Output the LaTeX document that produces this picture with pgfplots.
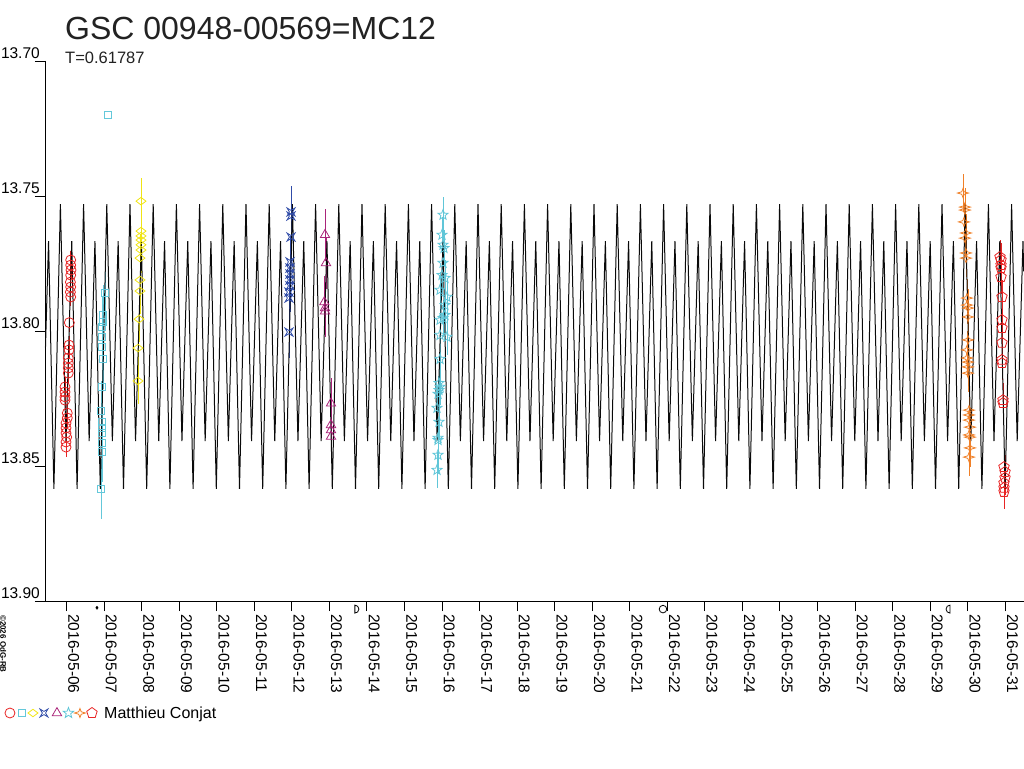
\documentclass[border=0pt]{standalone}
\usepackage{fontspec}
\setmainfont{Liberation Sans}
\usepackage{pgfplots}
\pgfplotsset{compat=1.18}
\usetikzlibrary{plotmarks}
\definecolor{cred}{RGB}{232,36,36}
\definecolor{csq}{RGB}{100,200,218}
\definecolor{cyel}{RGB}{240,228,20}
\definecolor{cblu}{RGB}{48,76,168}
\definecolor{cmag}{RGB}{170,36,122}
\definecolor{cstar}{RGB}{96,198,216}
\definecolor{cora}{RGB}{240,128,40}
\definecolor{ccurve}{RGB}{10,10,10}
\pgfdeclareplotmark{astroid}{%
 \pgfpathmoveto{\pgfqpoint{\pgfplotmarksize}{\pgfplotmarksize}}%
 \pgfpathlineto{\pgfqpoint{0pt}{0.4\pgfplotmarksize}}%
 \pgfpathlineto{\pgfqpoint{-\pgfplotmarksize}{\pgfplotmarksize}}%
 \pgfpathlineto{\pgfqpoint{-0.4\pgfplotmarksize}{0pt}}%
 \pgfpathlineto{\pgfqpoint{-\pgfplotmarksize}{-\pgfplotmarksize}}%
 \pgfpathlineto{\pgfqpoint{0pt}{-0.4\pgfplotmarksize}}%
 \pgfpathlineto{\pgfqpoint{\pgfplotmarksize}{-\pgfplotmarksize}}%
 \pgfpathlineto{\pgfqpoint{0.4\pgfplotmarksize}{0pt}}%
 \pgfpathclose\pgfusepathqstroke}
\pgfdeclareplotmark{fourstar}{%
 \pgfpathmoveto{\pgfqpoint{1.1\pgfplotmarksize}{0pt}}%
 \pgfpathlineto{\pgfqpoint{0.25\pgfplotmarksize}{0.25\pgfplotmarksize}}%
 \pgfpathlineto{\pgfqpoint{0pt}{0.9\pgfplotmarksize}}%
 \pgfpathlineto{\pgfqpoint{-0.25\pgfplotmarksize}{0.25\pgfplotmarksize}}%
 \pgfpathlineto{\pgfqpoint{-1.1\pgfplotmarksize}{0pt}}%
 \pgfpathlineto{\pgfqpoint{-0.25\pgfplotmarksize}{-0.25\pgfplotmarksize}}%
 \pgfpathlineto{\pgfqpoint{0pt}{-0.9\pgfplotmarksize}}%
 \pgfpathlineto{\pgfqpoint{0.25\pgfplotmarksize}{-0.25\pgfplotmarksize}}%
 \pgfpathclose\pgfusepathqstroke}
\pgfdeclareplotmark{starfive}{%
 \pgfpathmoveto{\pgfpointpolar{90}{\pgfplotmarksize}}%
 \pgfpathlineto{\pgfpointpolar{126}{0.42\pgfplotmarksize}}%
 \pgfpathlineto{\pgfpointpolar{162}{\pgfplotmarksize}}%
 \pgfpathlineto{\pgfpointpolar{198}{0.42\pgfplotmarksize}}%
 \pgfpathlineto{\pgfpointpolar{234}{\pgfplotmarksize}}%
 \pgfpathlineto{\pgfpointpolar{270}{0.42\pgfplotmarksize}}%
 \pgfpathlineto{\pgfpointpolar{306}{\pgfplotmarksize}}%
 \pgfpathlineto{\pgfpointpolar{342}{0.42\pgfplotmarksize}}%
 \pgfpathlineto{\pgfpointpolar{18}{\pgfplotmarksize}}%
 \pgfpathlineto{\pgfpointpolar{54}{0.42\pgfplotmarksize}}%
 \pgfpathclose\pgfusepathqstroke}
\pgfdeclareplotmark{dmoon}{%
 \pgfpathmoveto{\pgfqpoint{0pt}{\pgfplotmarksize}}%
 \pgfpatharc{90}{-90}{\pgfplotmarksize}%
 \pgfpathclose\pgfusepathqstroke}
\begin{document}
\begin{tikzpicture}
\begin{axis}[
  at={(45pt,167pt)}, anchor=south west,
  scale only axis, width=979pt, height=540pt,
  xmin=-0.5726, xmax=25.50, ymin=13.70, ymax=13.90, y dir=reverse,
  clip=false,
  axis x line*=bottom, axis y line*=left,
  axis line style={line width=0.9pt, black},
  tick align=outside, major tick length=10pt,
  tick style={line width=0.9pt, black},
  xtick={0,...,25},
  xticklabels={2016-05-06,2016-05-07,2016-05-08,2016-05-09,2016-05-10,2016-05-11,2016-05-12,2016-05-13,2016-05-14,2016-05-15,2016-05-16,2016-05-17,2016-05-18,2016-05-19,2016-05-20,2016-05-21,2016-05-22,2016-05-23,2016-05-24,2016-05-25,2016-05-26,2016-05-27,2016-05-28,2016-05-29,2016-05-30,2016-05-31},
  xticklabel style={rotate=-90, anchor=south west, inner xsep=0pt, inner ysep=1.5pt, font=\fontsize{15.5}{15.5}\selectfont},
  xticklabel shift=3pt,
  ytick={13.70,13.75,13.80,13.85,13.90},
  yticklabels={13.70,13.75,13.80,13.85,13.90},
  yticklabel style={anchor=south east, inner sep=0pt, xshift=5pt, yshift=2pt, font=\fontsize{15.5}{15.5}\selectfont},
  legend style={at={(axis description cs:-0.0409,-0.2074)}, anchor=west, draw=none, fill=none, inner sep=0pt, outer sep=0pt, font=\fontsize{16}{16}\selectfont, nodes={inner sep=0pt}, column sep=7pt},
]
\addlegendimage{legend image code/.code={
  \draw[cred, line width=0.8pt] plot[only marks, mark=o, mark size=5pt] coordinates {(0pt,0pt)};
  \draw[csq, line width=0.8pt] plot[only marks, mark=square, mark size=3.5pt] coordinates {(11.5pt,0pt)};
  \draw[cyel, line width=0.8pt] plot[only marks, mark=diamond, mark size=5pt, mark options={rotate=90}] coordinates {(23pt,0pt)};
  \draw[cblu, line width=0.8pt] plot[only marks, mark=astroid, mark size=4pt] coordinates {(34pt,0pt)};
  \draw[cmag, line width=0.8pt] plot[only marks, mark=triangle, mark size=5.4pt] coordinates {(47pt,0pt)};
  \draw[cstar, line width=0.8pt] plot[only marks, mark=starfive, mark size=5.5pt] coordinates {(58.5pt,0pt)};
  \draw[cora, line width=0.8pt] plot[only marks, mark=fourstar, mark size=5pt] coordinates {(70pt,0pt)};
  \draw[cred, line width=0.8pt] plot[only marks, mark=pentagon, mark size=5.5pt] coordinates {(82pt,0pt)};
}}
\addlegendentry{Matthieu Conjat}

% 2016-05-06 red circles
\addplot[cred, only marks, mark=o, mark size=5pt, line width=0.8pt, forget plot,
  error bars/.cd, y dir=both, y fixed=0.0035, error mark=none, error bar style={line width=0.9pt}] table {
x y
0.112 13.7737
0.112 13.7756
0.120 13.7774
0.112 13.7793
0.104 13.7819
0.112 13.7837
0.104 13.7856
0.112 13.7874
0.075 13.7969
0.067 13.8052
0.067 13.8070
0.048 13.8100
0.048 13.8119
0.048 13.8137
0.048 13.8156
-0.040 13.8207
-0.040 13.8226
-0.040 13.8244
-0.040 13.8256
0.021 13.8304
0.021 13.8322
-0.013 13.8341
-0.013 13.8359
-0.013 13.8378
0.005 13.8393
-0.013 13.8411
-0.013 13.8430
};
% 2016-05-07 cyan squares
\addplot[csq, only marks, mark=square, mark size=3.8pt, line width=0.8pt, forget plot] coordinates {(1.105,13.7200)};
\addplot[csq, only marks, mark=square, mark size=3.8pt, line width=0.8pt, forget plot,
  error bars/.cd, y dir=both, y fixed=0.011, error mark=none, error bar style={line width=0.9pt}] table {
x y
1.025 13.7859
0.972 13.7941
0.972 13.7967
0.945 13.7985
0.945 13.8022
0.945 13.8059
0.972 13.8104
0.945 13.8207
0.919 13.8296
0.945 13.8337
0.945 13.8359
0.945 13.8378
0.945 13.8415
0.945 13.8448
0.919 13.8585
};
% 2016-05-08 yellow diamonds
\addplot[cyel, only marks, mark=diamond, mark size=5pt, mark options={rotate=90}, line width=0.8pt, forget plot,
  error bars/.cd, y dir=both, y fixed=0.0085, error mark=none, error bar style={line width=0.9pt}] table {
x y
1.984 13.7519
1.984 13.7630
1.984 13.7648
1.984 13.7663
1.984 13.7681
1.984 13.7700
1.957 13.7730
1.957 13.7811
1.957 13.7852
1.931 13.7956
1.904 13.8063
1.904 13.8185
};
% 2016-05-12 dark blue
\addplot[cblu, only marks, mark=astroid, mark size=4pt, line width=0.8pt, forget plot,
  error bars/.cd, y dir=both, y fixed=0.0095, error mark=none, error bar style={line width=0.9pt}] table {
x y
5.979 13.7559
5.979 13.7574
5.979 13.7652
5.952 13.7744
5.952 13.7767
5.952 13.7789
5.952 13.7811
5.952 13.7833
5.925 13.7856
5.925 13.7878
5.925 13.8004
};
% 2016-05-13 magenta triangles
\addplot[cmag, only marks, mark=triangle, mark size=5.4pt, line width=0.8pt, forget plot,
  error bars/.cd, y dir=both, y fixed=0.0095, error mark=none, error bar style={line width=0.9pt}] table {
x y
6.884 13.7644
6.910 13.7748
6.866 13.7893
6.884 13.7915
6.884 13.7927
7.044 13.8268
7.044 13.8348
7.044 13.8367
7.044 13.8391
};
% 2016-05-16 cyan stars
\addplot[cstar, only marks, mark=starfive, mark size=5.3pt, line width=0.8pt, forget plot,
  error bars/.cd, y dir=both, y fixed=0.0068, error mark=none, error bar style={line width=0.9pt}] table {
x y
10.027 13.7570
10.000 13.7644
10.027 13.7681
10.053 13.7693
10.027 13.7748
10.000 13.7793
10.080 13.7804
9.947 13.7848
10.133 13.7874
10.080 13.7904
10.080 13.7941
9.947 13.7959
10.027 13.7952
9.947 13.8015
10.133 13.8022
9.947 13.8104
9.920 13.8193
9.947 13.8207
9.920 13.8219
9.894 13.8233
9.867 13.8285
9.920 13.8337
9.894 13.8396
9.894 13.8404
9.894 13.8459
9.867 13.8515
};
% 2016-05-30 orange four-point stars
\addplot[cora, only marks, mark=fourstar, mark size=5pt, line width=0.8pt, forget plot,
  error bars/.cd, y dir=both, y fixed=0.007, error mark=none, error bar style={line width=0.9pt}] table {
x y
23.874 13.7489
23.927 13.7541
23.927 13.7552
23.901 13.7596
23.954 13.7637
23.927 13.7656
23.954 13.7711
23.954 13.7730
23.981 13.7878
23.981 13.7904
24.008 13.7915
24.008 13.7948
24.008 13.8033
23.981 13.8070
23.981 13.8100
24.008 13.8115
24.008 13.8133
24.008 13.8156
24.035 13.8293
24.035 13.8311
24.035 13.8330
24.061 13.8356
24.035 13.8385
24.061 13.8393
24.061 13.8433
24.035 13.8467
};
% 2016-05-31 red pentagons
\addplot[cred, only marks, mark=pentagon, mark size=5.5pt, line width=0.8pt, forget plot,
  error bars/.cd, y dir=both, y fixed=0.0062, error mark=none, error bar style={line width=0.9pt}] table {
x y
24.860 13.7726
24.887 13.7737
24.887 13.7756
24.887 13.7767
24.887 13.7800
24.913 13.7874
24.913 13.7959
24.913 13.7989
24.913 13.8044
24.913 13.8107
24.913 13.8119
24.940 13.8256
24.940 13.8267
24.967 13.8504
24.994 13.8522
24.994 13.8544
24.967 13.8563
24.967 13.8581
24.967 13.8596
};
% model light curve, P = 0.61787 d
\addplot[ccurve, line width=1pt, forget plot] table {
x y
-0.5600 13.8061
-0.4779 13.7667
-0.3358 13.8585
-0.1629 13.7530
-0.0146 13.8408
0.1399 13.7667
0.2820 13.8585
0.4550 13.7530
0.6033 13.8408
0.7578 13.7667
0.8999 13.8585
1.0729 13.7530
1.2212 13.8408
1.3757 13.7667
1.5178 13.8585
1.6907 13.7530
1.8390 13.8408
1.9935 13.7667
2.1356 13.8585
2.3086 13.7530
2.4569 13.8408
2.6114 13.7667
2.7535 13.8585
2.9265 13.7530
3.0748 13.8408
3.2293 13.7667
3.3714 13.8585
3.5444 13.7530
3.6927 13.8408
3.8472 13.7667
3.9893 13.8585
4.1622 13.7530
4.3105 13.8408
4.4650 13.7667
4.6071 13.8585
4.7801 13.7530
4.9284 13.8408
5.0829 13.7667
5.2250 13.8585
5.3980 13.7530
5.5463 13.8408
5.7008 13.7667
5.8429 13.8585
6.0158 13.7530
6.1641 13.8408
6.3186 13.7667
6.4607 13.8585
6.6337 13.7530
6.7820 13.8408
6.9365 13.7667
7.0786 13.8585
7.2516 13.7530
7.3999 13.8408
7.5544 13.7667
7.6965 13.8585
7.8694 13.7530
8.0177 13.8408
8.1722 13.7667
8.3143 13.8585
8.4873 13.7530
8.6356 13.8408
8.7901 13.7667
8.9322 13.8585
9.1052 13.7530
9.2535 13.8408
9.4080 13.7667
9.5501 13.8585
9.7231 13.7530
9.8714 13.8408
10.0259 13.7667
10.1680 13.8585
10.3409 13.7530
10.4892 13.8408
10.6437 13.7667
10.7858 13.8585
10.9588 13.7530
11.1071 13.8408
11.2616 13.7667
11.4037 13.8585
11.5767 13.7530
11.7250 13.8408
11.8795 13.7667
12.0216 13.8585
12.1945 13.7530
12.3428 13.8408
12.4973 13.7667
12.6394 13.8585
12.8124 13.7530
12.9607 13.8408
13.1152 13.7667
13.2573 13.8585
13.4303 13.7530
13.5786 13.8408
13.7331 13.7667
13.8752 13.8585
14.0481 13.7530
14.1964 13.8408
14.3509 13.7667
14.4930 13.8585
14.6660 13.7530
14.8143 13.8408
14.9688 13.7667
15.1109 13.8585
15.2839 13.7530
15.4322 13.8408
15.5867 13.7667
15.7288 13.8585
15.9018 13.7530
16.0501 13.8408
16.2046 13.7667
16.3467 13.8585
16.5196 13.7530
16.6679 13.8408
16.8224 13.7667
16.9645 13.8585
17.1375 13.7530
17.2858 13.8408
17.4403 13.7667
17.5824 13.8585
17.7554 13.7530
17.9037 13.8408
18.0582 13.7667
18.2003 13.8585
18.3732 13.7530
18.5215 13.8408
18.6760 13.7667
18.8181 13.8585
18.9911 13.7530
19.1394 13.8408
19.2939 13.7667
19.4360 13.8585
19.6090 13.7530
19.7573 13.8408
19.9118 13.7667
20.0539 13.8585
20.2268 13.7530
20.3751 13.8408
20.5296 13.7667
20.6717 13.8585
20.8447 13.7530
20.9930 13.8408
21.1475 13.7667
21.2896 13.8585
21.4626 13.7530
21.6109 13.8408
21.7654 13.7667
21.9075 13.8585
22.0805 13.7530
22.2288 13.8408
22.3833 13.7667
22.5254 13.8585
22.6983 13.7530
22.8466 13.8408
23.0011 13.7667
23.1432 13.8585
23.3162 13.7530
23.4645 13.8408
23.6190 13.7667
23.7611 13.8585
23.9341 13.7530
24.0824 13.8408
24.2369 13.7667
24.3790 13.8585
24.5519 13.7530
24.7002 13.8408
24.8547 13.7667
24.9968 13.8585
25.1698 13.7530
25.3181 13.8408
25.4726 13.7667
25.4900 13.7779
};
% moon phases below the axis
\addplot[black, only marks, mark=diamond*, mark size=1.6pt, forget plot] coordinates {(0.812,13.9025)};
\addplot[black, only marks, mark=dmoon, mark size=4pt, line width=0.8pt, forget plot] coordinates {(7.68,13.9030)};
\addplot[black, only marks, mark=o, mark size=3.8pt, line width=0.8pt, forget plot] coordinates {(15.885,13.9030)};
\addplot[black, only marks, mark=dmoon, mark size=4pt, line width=0.8pt, mark options={rotate=180}, forget plot] coordinates {(23.53,13.9030)};
\end{axis}
\node[anchor=base west, inner sep=0pt, font=\fontsize{32}{32}\selectfont, text={rgb,255:red,34;green,34;blue,34}] at (65pt,728pt) {GSC 00948-00569=MC12};
\node[anchor=base west, inner sep=0pt, font=\fontsize{16.5}{16.5}\selectfont, text={rgb,255:red,34;green,34;blue,34}] at (65pt,704pt) {T=0.61787};
\node[rotate=-90, anchor=south west, inner sep=0pt, font=\fontsize{8}{8}\selectfont\bfseries] at (0pt,153pt) {©2026 OdG-RB};
\pgfresetboundingbox
\path[use as bounding box] (0pt,0pt) rectangle (1024pt,768pt);
\end{tikzpicture}
\end{document}
